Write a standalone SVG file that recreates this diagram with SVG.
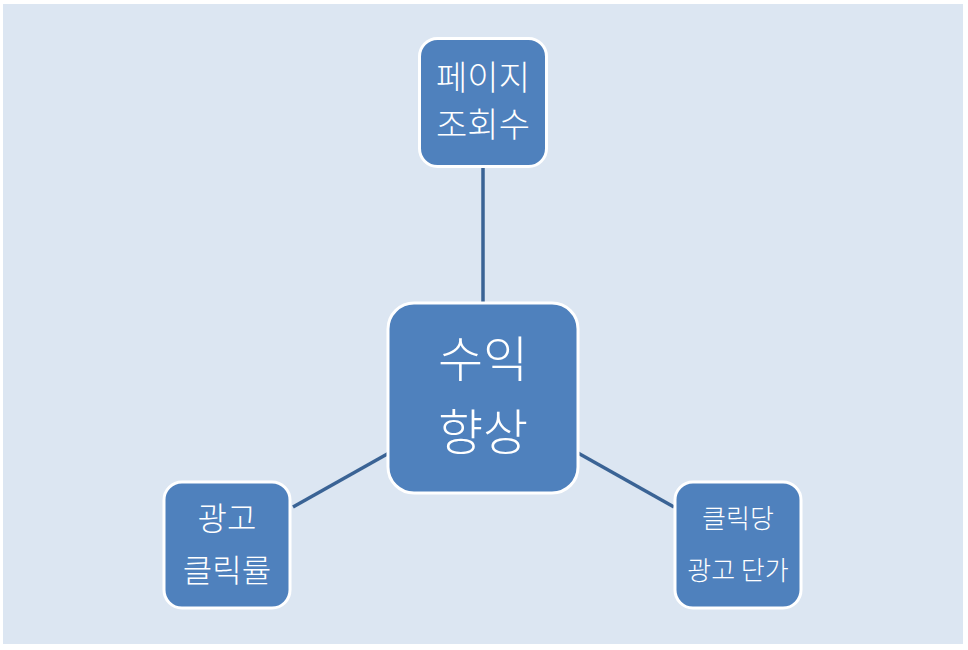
<svg xmlns="http://www.w3.org/2000/svg" width="968" height="650" viewBox="0 0 968 650">
<style>
.box{fill:#4f81bd;stroke:#ffffff;stroke-width:3}
.t{fill:#ffffff;font-family:"Noto Sans CJK KR","Noto Sans",sans-serif;font-weight:300;text-anchor:middle}
.c{stroke:#3a6395;stroke-width:3.5;fill:none}
</style>
<rect x="0" y="0" width="968" height="650" fill="#ffffff"/>
<rect x="3" y="4" width="960" height="640" fill="#dce6f2"/>
<g id="connectors">
<line class="c" x1="483" y1="167" x2="483" y2="303"/>
<line class="c" x1="293" y1="507" x2="389" y2="453"/>
<line class="c" x1="578" y1="453" x2="674" y2="507"/>
</g>
<g id="node-top">
<rect class="box" x="419.5" y="38.5" width="127" height="128" rx="18"/>
<text class="t" x="483" y="90" font-size="34">페이지</text>
<text class="t" x="483" y="137" font-size="34">조회수</text>
</g>
<g id="node-center">
<rect class="box" x="388" y="303" width="190" height="190" rx="26"/>
<text class="t" x="483" y="377" font-size="49">수익</text>
<text class="t" x="483" y="450" font-size="49">향상</text>
</g>
<g id="node-left">
<rect class="box" x="164" y="482" width="126" height="126" rx="18"/>
<text class="t" x="227" y="530" font-size="32">광고</text>
<text class="t" x="227" y="582" font-size="32">클릭률</text>
</g>
<g id="node-right">
<rect class="box" x="675" y="482" width="126" height="126" rx="18"/>
<text class="t" x="738" y="528" font-size="26">클릭당</text>
<text class="t" x="738" y="580" font-size="26">광고 단가</text>
</g>
</svg>
